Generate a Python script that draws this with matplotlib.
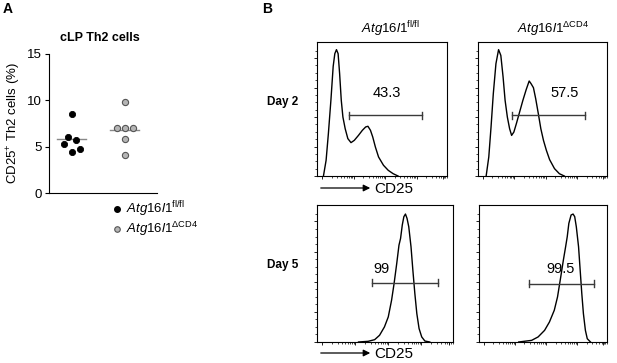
import numpy as np
import matplotlib
matplotlib.use("Agg")
import matplotlib.pyplot as plt

plt.rcParams["font.family"] = ["Liberation Sans", "DejaVu Sans"]
plt.rcParams["mathtext.fontset"] = "custom"
plt.rcParams["mathtext.rm"] = "Liberation Sans"
plt.rcParams["mathtext.it"] = "Liberation Sans:italic"

# ---- panel A data (CD25+ Th2 cells, %)
groups = ["Atg16l1 fl/fl", "Atg16l1 dCD4"]
fl_vals = [8.5, 6.05, 5.7, 5.25, 4.45, 4.75]
fl_off = [0.0, -0.075, 0.08, -0.15, 0.0, 0.155]
cd4_vals = [9.8, 7.05, 7.05, 7.05, 5.8, 4.1]
cd4_off = [0.0, -0.15, 0.0, 0.15, 0.0, 0.0]
fl_mean = 5.8
cd4_mean = 6.8
yticks_a = [0, 5, 10, 15]

# ---- panel B histograms (x: CD25 channel 0-1000, y: % of box height)
d2_fl_x = [51, 72, 90, 110, 128, 141, 154, 167, 179, 192, 205, 223, 244, 269, 295,
           328, 359, 385, 403, 423, 441, 462, 487, 526, 564, 603, 641]
d2_fl_y = [0, 11.7, 31.6, 56.5, 81.8, 91.3, 94.3, 91.3, 76.4, 56.5, 44, 35.3, 27.9,
           24.9, 26.6, 30.3, 34.1, 36.6, 37.1, 34.1, 29.1, 21.6, 14.2, 8, 4.2, 1.7, 0]
d2_cd4_x = [65, 86, 104, 122, 143, 164, 182, 200, 216, 234, 252, 268, 286, 306, 332,
            358, 384, 408, 423, 442, 460, 481, 501, 522, 545, 571, 610, 649, 688]
d2_cd4_y = [0, 14.2, 36.6, 61.4, 83.8, 94.3, 90, 73.9, 56.5, 44, 35.3, 30.3, 32.8,
            39.1, 47.8, 56.5, 64.4, 70.9, 68.9, 65.9, 57.7, 46.5, 35.3, 26.6, 19.2,
            12.2, 5.5, 1.7, 0]
d5_fl_x = [314, 387, 436, 473, 510, 539, 564, 583, 603, 620, 632, 645, 657, 669, 681,
           694, 711, 725, 740, 755, 772, 792, 816, 853]
d5_fl_y = [0, 0.5, 1.7, 4.9, 11, 18.3, 30.5, 42.7, 57.3, 70.7, 75.6, 85.4, 91.5, 93.4,
           90.2, 84.1, 69.5, 52.4, 35.4, 20.7, 9.8, 3.7, 0.7, 0]
d5_cd4_x = [319, 423, 475, 527, 566, 605, 631, 657, 678, 696, 709, 722, 740, 756, 769,
            782, 800, 813, 826, 839, 855, 870, 896]
d5_cd4_y = [0, 1.2, 3.7, 8.5, 14.6, 23.2, 32.9, 47.6, 59.8, 69.5, 76.8, 86.6, 92.7,
            93.4, 91.5, 84.1, 69.5, 52.4, 35.4, 20.7, 8.5, 2.4, 0]

# gates: (start, end, level), percentage label and its position
gates = [(256, 833, 45.3), (273, 857, 45.3), (419, 914, 43.4), (403, 922, 42.7)]
gate_pct = ["43.3", "57.5", "99", "99.5"]
pct_pos = [(551, 56.5), (688, 56.5), (485, 53), (657, 53)]

W, H = 617, 363


def box(l, t, r, b):
    return [l / W, 1 - b / H, (r - l) / W, (b - t) / H]


def fp(x, y):
    return (x / W, 1 - y / H)


fig = plt.figure(figsize=(6.17, 3.63), dpi=100)

# ---------------- panel A
ax = fig.add_axes(box(49, 54, 157, 193))
ax.scatter([1 + o for o in fl_off], fl_vals, s=20, c="black", edgecolors="black",
           linewidths=0.6, zorder=3, clip_on=False)
ax.scatter([2 + o for o in cd4_off], cd4_vals, s=20, c="#b5b5b5", edgecolors="#555555",
           linewidths=0.8, zorder=3, clip_on=False)
ax.plot([0.73, 1.27], [fl_mean, fl_mean], color="#888888", lw=1.0, zorder=2)
ax.plot([1.73, 2.27], [cd4_mean, cd4_mean], color="#888888", lw=1.0, zorder=2)
ax.set_xlim(0.572, 2.61)
ax.set_ylim(0, 15)
ax.set_yticks(yticks_a)
ax.set_xticks([])
for s in ["top", "right"]:
    ax.spines[s].set_visible(False)
ax.spines["left"].set_linewidth(0.8)
ax.spines["bottom"].set_linewidth(0.8)
ax.tick_params(axis="y", labelsize=9.5, length=3, width=0.8, pad=2)
ax.set_ylabel("CD25$^{+}$ Th2 cells (%)", fontsize=9.5, labelpad=3)
fig.text(*fp(100, 38), "cLP Th2 cells", fontsize=9, fontweight="bold",
         ha="center", va="center")
fig.text(*fp(3, 9), "A", fontsize=10, fontweight="bold", ha="left", va="center")

# legend
fig.add_artist(plt.Line2D([117 / W], [1 - 209 / H], marker="o", ms=4, color="black",
                          mec="black", transform=fig.transFigure))
fig.add_artist(plt.Line2D([117 / W], [1 - 229 / H], marker="o", ms=4, color="#b5b5b5",
                          mec="#555555", mew=0.8, transform=fig.transFigure))
fig.text(*fp(126, 209), r"$\mathit{Atg16l1}^{\mathrm{fl/fl}}$", fontsize=9.5,
         ha="left", va="center")
fig.text(*fp(126, 229), r"$\mathit{Atg16l1}^{\mathrm{\Delta CD4}}$", fontsize=9.5,
         ha="left", va="center")

# ---------------- panel B
fig.text(*fp(262, 9), "B", fontsize=10, fontweight="bold", ha="left", va="center")
fig.text(*fp(390, 29), r"$\mathit{Atg16l1}^{\mathrm{fl/fl}}$", fontsize=9.5,
         ha="center", va="center")
fig.text(*fp(553, 29), r"$\mathit{Atg16l1}^{\mathrm{\Delta CD4}}$", fontsize=9.5,
         ha="center", va="center")
fig.text(*fp(283, 102), "Day 2", fontsize=8.5, fontweight="bold", ha="center", va="center")
fig.text(*fp(283, 265), "Day 5", fontsize=8.5, fontweight="bold", ha="center", va="center")

hist_boxes = [box(317, 42, 447, 176), box(478, 42, 607, 176),
              box(317, 205, 453, 342), box(479, 205, 607, 342)]
curves = [(d2_fl_x, d2_fl_y), (d2_cd4_x, d2_cd4_y), (d5_fl_x, d5_fl_y), (d5_cd4_x, d5_cd4_y)]

# log-like decade ticks on CD25 axis
minor_x = []
for d in range(4):
    for k in range(2, 10):
        minor_x.append(40 + 250 * d + 250 * np.log10(k))
major_x = [40 + 250 * d for d in range(4)] + [1000]

for i in range(4):
    a = fig.add_axes(hist_boxes[i])
    cx, cy = curves[i]
    a.plot(cx, cy, color="black", lw=1.0)
    x0, x1, lev = gates[i]
    a.plot([x0, x1], [lev, lev], color="#3a3a3a", lw=1.0)
    a.plot([x0, x0], [lev - 2.5, lev + 2.5], color="#3a3a3a", lw=1.0)
    a.plot([x1, x1], [lev - 2.5, lev + 2.5], color="#3a3a3a", lw=1.0)
    a.text(pct_pos[i][0], pct_pos[i][1], gate_pct[i], fontsize=10.5, ha="center",
           va="bottom" if i < 2 else "center")
    a.set_xlim(0, 1000)
    a.set_ylim(0, 100)
    a.set_xticks(major_x)
    a.set_xticks(minor_x, minor=True)
    a.set_yticks([0, 22, 44, 66, 88])
    a.set_yticks([5.5, 11, 16.5, 27.5, 33, 38.5, 49.5, 55, 60.5, 71.5, 77, 82.5, 93.5],
                 minor=True)
    a.set_xticklabels([])
    a.set_yticklabels([])
    a.tick_params(which="major", length=2.5, width=0.6, direction="out")
    a.tick_params(which="minor", length=1.5, width=0.5, direction="out")
    for s in a.spines.values():
        s.set_linewidth(0.8)

# CD25 arrows
for yy in (188, 353):
    fig.add_artist(matplotlib.patches.FancyArrowPatch(
        fp(318, yy), fp(373, yy), arrowstyle="-|>", mutation_scale=10, lw=0.9,
        color="black", transform=fig.transFigure))
    fig.text(*fp(374, yy + 1), "CD25", fontsize=11, ha="left", va="center")

fig.savefig("out.png", dpi=100)
